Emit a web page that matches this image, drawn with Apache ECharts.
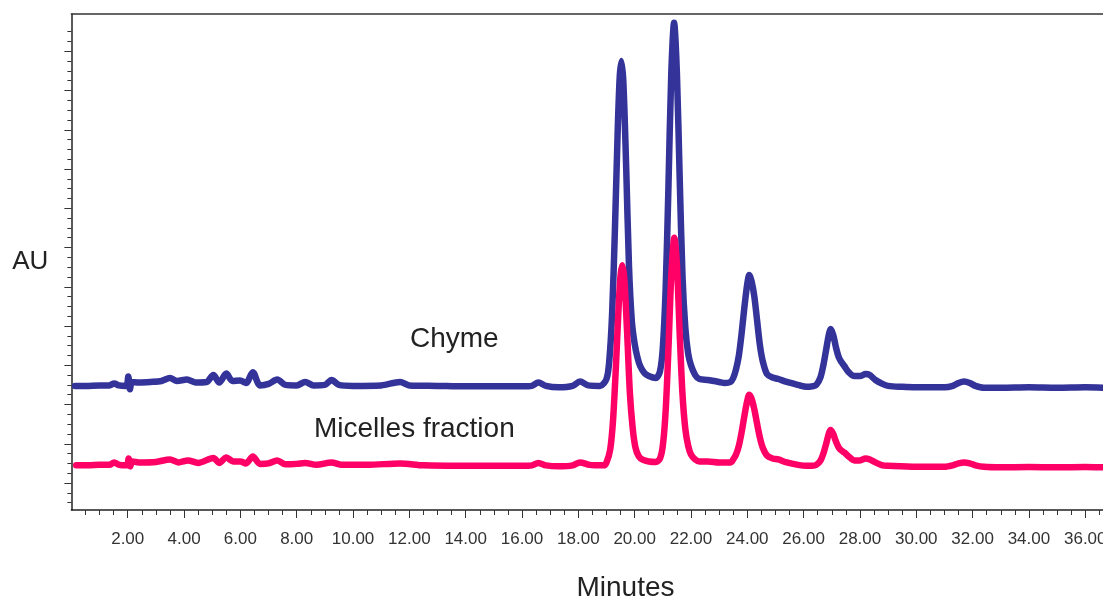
<!DOCTYPE html>
<html>
<head>
<meta charset="utf-8">
<script src="https://cdn.jsdelivr.net/npm/echarts@6/dist/echarts.min.js"></script>
<style>
  html, body { margin: 0; padding: 0; background: #fff; }
  #chart { width: 1103px; height: 600px; }
</style>
</head>
<body>
<div id="chart"></div>
<script>
// retention time (minutes) and absorbance
const chymeTime = [0.13, 0.5, 1.0, 1.35, 1.52, 1.68, 1.95, 2.02, 2.08, 2.15, 2.4, 2.8, 3.2, 3.5, 3.75, 4.1, 4.4, 4.8,
  5.04, 5.25, 5.5, 5.72, 5.99, 6.2, 6.44, 6.7, 7.0, 7.31, 7.6, 8.0, 8.3, 8.6, 9.0, 9.24, 9.5, 10.0, 11.0, 11.67, 12.0,
  13.0, 14.0, 15.0, 16.0, 16.35, 16.58, 16.85, 17.3, 17.8, 18.06, 18.35, 18.77, 19.0, 19.1, 19.2, 19.3, 19.4, 19.47,
  19.53, 19.6, 19.7, 19.8, 19.9, 20.0, 20.1, 20.2, 20.35, 20.5, 20.75, 20.9, 21.0, 21.1, 21.2, 21.3, 21.4, 21.5, 21.6,
  21.7, 21.8, 21.9, 22.0, 22.15, 22.3, 22.6, 23.0, 23.2, 23.4, 23.5, 23.6, 23.7, 23.8, 23.9, 24.0, 24.07, 24.15, 24.25,
  24.35, 24.45, 24.55, 24.7, 24.9, 25.1, 25.4, 25.8, 26.1, 26.3, 26.45, 26.6, 26.7, 26.8, 26.9, 26.96, 27.05, 27.15,
  27.25, 27.35, 27.45, 27.6, 27.8, 28.0, 28.2, 28.35, 28.55, 28.8, 29.0, 29.5, 30.0, 31.0, 31.3, 31.5, 31.7, 31.9,
  32.1, 32.4, 33.0, 34.0, 35.0, 36.0, 36.8];
const chymeAU = [9.9, 9.9, 9.95, 9.95, 10.15, 9.95, 9.9, 10.85, 9.55, 10.3, 10.25, 10.3, 10.4, 10.7, 10.4, 10.55, 10.25, 10.3,
  11.0, 10.25, 11.15, 10.4, 10.45, 10.2, 11.3, 9.95, 10.1, 10.55, 10.0, 9.95, 10.3, 9.95, 10.0, 10.5, 10.0, 9.9, 9.95, 10.3, 9.95,
  9.9, 9.85, 9.85, 9.85, 9.9, 10.25, 9.9, 9.75, 9.9, 10.35, 9.95, 9.9, 10.6, 12.5, 17.3, 25.9, 36.1, 41.4,
  43.0, 40.8, 32.1, 22.0, 16.5, 14.2, 12.8, 11.9, 11.2, 10.9, 10.7, 11.4, 13.8, 19.7, 30.2, 41.7, 46.9, 41.8, 31.0,
  21.0, 15.8, 13.2, 12.0, 11.0, 10.6, 10.5, 10.3, 10.2, 10.3, 10.7, 11.6, 13.0, 15.3, 18.0, 20.3, 21.2, 20.6, 19.0,
  16.5, 14.0, 12.4, 11.1, 10.75, 10.6, 10.3, 10.0, 9.8, 9.85, 10.0, 10.8, 12.0, 13.6, 15.2, 15.7, 15.1, 13.8,
  12.8, 12.3, 11.9, 11.3, 10.9, 10.9, 11.1, 11.0, 10.5, 10.1, 9.9, 9.8, 9.75, 9.75, 9.9, 10.2, 10.35, 10.2,
  9.9, 9.7, 9.7, 9.75, 9.7, 9.75, 9.7];

const micellesTime = [0.17, 0.6, 1.0, 1.35, 1.52, 1.7, 1.97, 2.03, 2.09, 2.16, 2.4, 3.0, 3.5, 3.8, 4.14, 4.5, 5.04, 5.25,
  5.5, 5.75, 6.0, 6.2, 6.44, 6.7, 7.0, 7.31, 7.6, 8.0, 8.3, 8.7, 9.24, 9.6, 10.5, 11.67, 12.5, 14.0, 16.0, 16.35, 16.58,
  16.85, 17.3, 17.8, 18.06, 18.4, 18.9, 19.0, 19.13, 19.23, 19.33, 19.43, 19.5, 19.56, 19.63, 19.73, 19.83, 19.93, 20.03,
  20.15, 20.3, 20.5, 20.75, 20.9, 21.0, 21.1, 21.2, 21.3, 21.41, 21.5, 21.6, 21.7, 21.8, 21.9, 22.0, 22.15, 22.3, 22.6,
  23.0, 23.4, 23.5, 23.6, 23.7, 23.8, 23.9, 24.0, 24.07, 24.15, 24.25, 24.35, 24.45, 24.55, 24.7, 24.9, 25.1, 25.4, 25.8,
  26.1, 26.3, 26.45, 26.6, 26.7, 26.8, 26.9, 26.96, 27.05, 27.15, 27.25, 27.35, 27.45, 27.6, 27.8, 28.0, 28.2, 28.35,
  28.55, 28.8, 29.0, 30.0, 31.0, 31.3, 31.5, 31.7, 31.9, 32.1, 32.4, 33.0, 34.0, 35.0, 36.0, 36.8];
const micellesAU = [1.8, 1.8, 1.85, 1.85, 2.1, 1.85, 1.8, 2.5, 1.7, 2.2, 2.1, 2.15, 2.4, 2.1, 2.3, 2.05, 2.55, 2.05,
  2.6, 2.2, 2.2, 2.0, 2.7, 1.95, 2.0, 2.3, 1.9, 1.95, 2.05, 1.85, 2.1, 1.85, 1.85, 2.0, 1.8, 1.75, 1.75, 1.8, 2.05,
  1.8, 1.7, 1.8, 2.1, 1.85, 1.8, 2.1, 3.4, 6.3, 11.6, 17.9, 21.2, 22.2, 20.9, 15.5, 9.2, 5.6, 3.6,
  2.7, 2.35, 2.2, 2.15, 2.5, 3.8, 7.3, 13.7, 21.1, 25.0, 22.3, 15.2, 9.0, 5.5, 3.8, 2.9, 2.4, 2.2, 2.2,
  2.1, 2.1, 2.4, 2.9, 3.8, 5.2, 6.9, 8.4, 9.0, 8.6, 7.5, 6.0, 4.6, 3.6, 2.8, 2.5, 2.4, 2.1, 1.85,
  1.75, 1.75, 1.85, 2.3, 3.0, 4.0, 5.1, 5.4, 5.0, 4.2, 3.6, 3.3, 3.1, 2.7, 2.3, 2.3, 2.5, 2.4,
  2.1, 1.8, 1.75, 1.65, 1.65, 1.8, 2.0, 2.1, 2.0, 1.8, 1.65, 1.6, 1.62, 1.6, 1.62, 1.6];

// axis ticks
const xMajorTicks = [2, 4, 6, 8, 10, 12, 14, 16, 18, 20, 22, 24, 26, 28, 30, 32, 34, 36];
const xMinorTicks = [0.5, 1, 1.5, 2.5, 3, 3.5, 4.5, 5, 5.5, 6.5, 7, 7.5, 8.5, 9, 9.5, 10.5, 11, 11.5, 12.5, 13, 13.5,
  14.5, 15, 15.5, 16.5, 17, 17.5, 18.5, 19, 19.5, 20.5, 21, 21.5, 22.5, 23, 23.5, 24.5, 25, 25.5, 26.5, 27, 27.5,
  28.5, 29, 29.5, 30.5, 31, 31.5, 32.5, 33, 33.5, 34.5, 35, 35.5, 36.5];
const yMajorTicks = [0, 4, 8, 12, 16, 20, 24, 28, 32, 36, 40, 44];
const yMinorTicks = [-2, -1, 1, 2, 3, 5, 6, 7, 9, 10, 11, 13, 14, 15, 17, 18, 19, 21, 22, 23, 25, 26, 27, 29, 30, 31,
  33, 34, 35, 37, 38, 39, 41, 42, 43, 45, 46];

const X_MIN = 0, X_MAX = 36.63;
const Y_MIN = -2.75, Y_MAX = 47.8;

const pairs = (xs, ys) => xs.map((x, i) => [x, ys[i]]);

const FONT = "'Liberation Sans', Arial, sans-serif";
const chart = echarts.init(document.getElementById('chart'));

const lineSeries = (name, data, color) => ({
  name,
  type: 'line',
  data,
  xAxisIndex: 0,
  yAxisIndex: 0,
  showSymbol: false,
  smooth: 0.3,
  lineStyle: { color, width: 6.5, cap: 'round', join: 'round' },
  emphasis: { disabled: true }
});

chart.setOption({
  animation: false,
  backgroundColor: '#fff',
  grid: { left: 71.4, top: 14, bottom: 90, right: 0, show: false, outerBoundsMode: 'none', containLabel: false },
  xAxis: [
    {
      type: 'value', min: X_MIN, max: X_MAX,
      axisLine: { show: true, onZero: false, lineStyle: { color: '#222', width: 1.5 } },
      axisTick: { show: true, customValues: xMajorTicks, length: 8, lineStyle: { color: '#333', width: 1 } },
      axisLabel: {
        customValues: xMajorTicks, margin: 21, fontSize: 17, color: '#333', fontFamily: FONT,
        hideOverlap: false, formatter: v => v.toFixed(2)
      },
      splitLine: { show: false }
    },
    {
      type: 'value', min: X_MIN, max: X_MAX, position: 'bottom',
      axisLine: { show: false, onZero: false },
      axisTick: { show: true, customValues: xMinorTicks, length: 5, lineStyle: { color: '#333', width: 1 } },
      axisLabel: { show: false },
      splitLine: { show: false }
    },
    {
      // top frame line
      type: 'value', min: X_MIN, max: X_MAX, position: 'top',
      axisLine: { show: true, onZero: false, lineStyle: { color: '#333', width: 1.5 } },
      axisTick: { show: false },
      axisLabel: { show: false },
      splitLine: { show: false }
    }
  ],
  yAxis: [
    {
      type: 'value', min: Y_MIN, max: Y_MAX, position: 'left',
      axisLine: { show: true, onZero: false, lineStyle: { color: '#222', width: 1.5 } },
      axisTick: { show: true, customValues: yMajorTicks, length: 7, lineStyle: { color: '#333', width: 1 } },
      axisLabel: { show: false },
      splitLine: { show: false },
      name: 'AU', nameLocation: 'middle', nameRotate: 0, nameGap: 23,
      nameTextStyle: { fontSize: 26, color: '#222', fontFamily: FONT }
    },
    {
      type: 'value', min: Y_MIN, max: Y_MAX, position: 'left',
      axisLine: { show: false, onZero: false },
      axisTick: { show: true, customValues: yMinorTicks, length: 4, lineStyle: { color: '#333', width: 1 } },
      axisLabel: { show: false },
      splitLine: { show: false }
    }
  ],
  graphic: [
    { type: 'text', x: 410, y: 339, style: { text: 'Chyme', font: '28px ' + FONT, fill: '#222', align: 'left', verticalAlign: 'middle' } },
    { type: 'text', x: 314, y: 429, style: { text: 'Micelles fraction', font: '28px ' + FONT, fill: '#222', align: 'left', verticalAlign: 'middle' } },
    { type: 'text', x: 625.5, y: 588, style: { text: 'Minutes', font: '28px ' + FONT, fill: '#222', align: 'center', verticalAlign: 'middle' } }
  ],
  series: [
    lineSeries('Chyme', pairs(chymeTime, chymeAU), '#333399'),
    lineSeries('Micelles fraction', pairs(micellesTime, micellesAU), '#ff0066')
  ]
});
</script>
</body>
</html>
